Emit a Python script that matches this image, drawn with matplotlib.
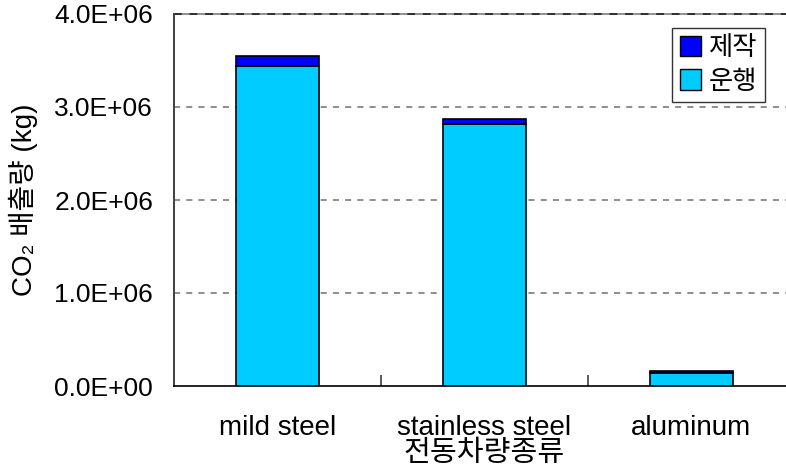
import matplotlib
matplotlib.use("Agg")
import matplotlib.pyplot as plt
from matplotlib.patches import Patch
import numpy as np

plt.rcParams['font.family'] = ['Liberation Sans', 'Noto Sans CJK KR', 'DejaVu Sans']

categories = ["mild steel", "stainless steel", "aluminum"]
operation = [3.44e6, 2.82e6, 0.14e6]   # 운행
manufacture = [0.11e6, 0.05e6, 0.02e6]  # 제작
yticks = [0, 1e6, 2e6, 3e6, 4e6]
ytick_labels = ["0.0E+00", "1.0E+06", "2.0E+06", "3.0E+06", "4.0E+06"]

fig = plt.figure(figsize=(7.86, 4.70), dpi=100)
ax = fig.add_axes([174 / 786, 84 / 470, 621 / 786, 372 / 470])

x = np.arange(len(categories))
w = 0.40
ax.bar(x, operation, w, color="#00CCFF", edgecolor="black", linewidth=1.2, zorder=3)
ax.bar(x, manufacture, w, bottom=operation, color="#0000FF", edgecolor="black",
       linewidth=1.2, zorder=3)

ax.set_xlim(-0.5, 2.5)
ax.set_ylim(0, 4e6)

# grid lines
for y in yticks[1:-1]:
    ax.axhline(y, color="#707070", linestyle=(0, (4, 4)), linewidth=1.1, zorder=1)
ax.axhline(4e6, color="#909090", linewidth=1.4, zorder=1, clip_on=False)
ax.axhline(4e6, color="#303030", linestyle=(0, (4, 4)), linewidth=1.4, zorder=2, clip_on=False)

for s in ["top", "right"]:
    ax.spines[s].set_visible(False)
ax.spines["left"].set_color("#404040")
ax.spines["left"].set_linewidth(1.4)
ax.spines["bottom"].set_color("black")
ax.spines["bottom"].set_linewidth(1.2)

ax.set_yticks(yticks)
ax.set_yticklabels(ytick_labels, fontsize=19)
ax.tick_params(axis="y", length=0, pad=15)

ax.set_xticks(x)
ax.set_xticklabels(categories, fontsize=20)
ax.tick_params(axis="x", length=0, pad=21)
ax.set_xticks([0.5, 1.5], minor=True)
ax.tick_params(axis="x", which="minor", direction="in", length=8, width=1.2, color="#404040")

ax.set_xlabel("전동차량종류", fontsize=21, va="center")
ax.xaxis.set_label_coords(0.5, -(453 - 386) / 372)
ax.set_ylabel("CO₂ 배출량 (kg)", fontsize=20, labelpad=12)

handles = [Patch(facecolor="#0000FF", edgecolor="black"),
           Patch(facecolor="#00CCFF", edgecolor="black")]
leg = ax.legend(handles, ["제작", "운행"], loc="upper right",
                bbox_to_anchor=(765 / 786, 1 - 28 / 470), bbox_transform=fig.transFigure,
                fontsize=19, frameon=True, fancybox=False, edgecolor="black",
                handlelength=0.8, handleheight=0.8, handletextpad=0.3,
                borderpad=0.3, labelspacing=0.35, borderaxespad=0)
leg.get_frame().set_linewidth(1.0)

fig.savefig("out.png", dpi=100)
